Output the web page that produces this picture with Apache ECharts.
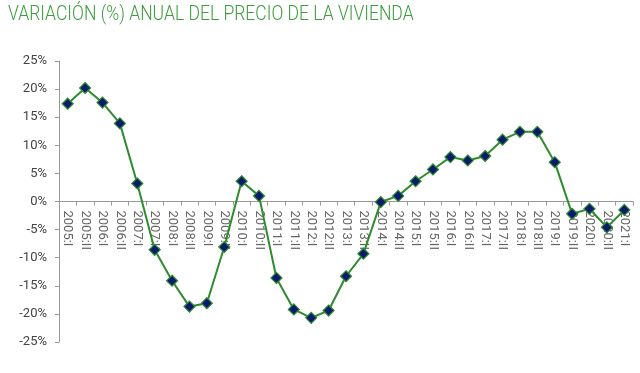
<!DOCTYPE html>
<html><head><meta charset="utf-8">
<script src="https://cdn.jsdelivr.net/npm/echarts@6/dist/echarts.min.js"></script>
<style>html,body{margin:0;padding:0;background:#fff}#c{width:640px;height:373px}</style>
</head><body><div id="c"></div>
<script>
const categories = ["2005:I","2005:II","2006:I","2006:II","2007:I","2007:II","2008:I","2008:II","2009:I","2009:II","2010:I","2010:II","2011:I","2011:II","2012:I","2012:II","2013:I","2013:II","2014:I","2014:II","2015:I","2015:II","2016:I","2016:II","2017:I","2017:II","2018:I","2018:II","2019:I","2019:II","2020:I","2020:II","2021:I"];
const values = [17.4,20.2,17.6,13.9,3.2,-8.6,-14.1,-18.7,-18.1,-8.1,3.6,1.0,-13.6,-19.2,-20.7,-19.4,-13.3,-9.3,-0.1,1.0,3.6,5.7,7.9,7.3,8.1,11.0,12.4,12.4,7.0,-2.2,-1.3,-4.6,-1.5];
const yTicks = {min:-25, max:25, interval:5};
const titleText = "VARIACIÓN (%) ANUAL DEL PRECIO DE LA VIVIENDA";
const chart = echarts.init(document.getElementById('c'), null, {renderer:'canvas'});
const gridTop = 61, gridBottom = 31, H = 373;
const plotH = H - gridTop - gridBottom;
chart.setOption({
  animation:false,
  graphic:[{type:'text', left:8, top:4, scaleX:0.835,
    style:{text:titleText, fill:'#3c9c3c', font:'300 21px Roboto'}}],
  grid:{left:59, right:7, top:gridTop, bottom:gridBottom, containLabel:false, outerBoundsMode:'none'},
  xAxis:{type:'category', data:categories, boundaryGap:true, position:'bottom',
    offset:-plotH/2,
    axisLine:{onZero:false, lineStyle:{color:'#999', width:1}},
    axisTick:{show:true, length:4, inside:false, lineStyle:{color:'#999'}},
    axisLabel:{rotate:-90, interval:0, color:'#666', fontFamily:'Roboto', fontSize:13, margin:9}},
  yAxis:{type:'value', min:yTicks.min, max:yTicks.max, interval:yTicks.interval,
    axisLine:{show:true, lineStyle:{color:'#999'}},
    axisTick:{show:true, length:4, lineStyle:{color:'#999'}},
    splitLine:{show:false},
    axisLabel:{formatter:'{value}%', color:'#444', fontFamily:'Roboto', fontSize:13, margin:12}},
  series:[{type:'line', data:values, symbol:'diamond', symbolSize:11,
    lineStyle:{color:'#2e8b2e', width:2},
    itemStyle:{color:'#0a1a6e', borderColor:'#2e8b2e', borderWidth:1.2}}]
});
</script></body></html>
